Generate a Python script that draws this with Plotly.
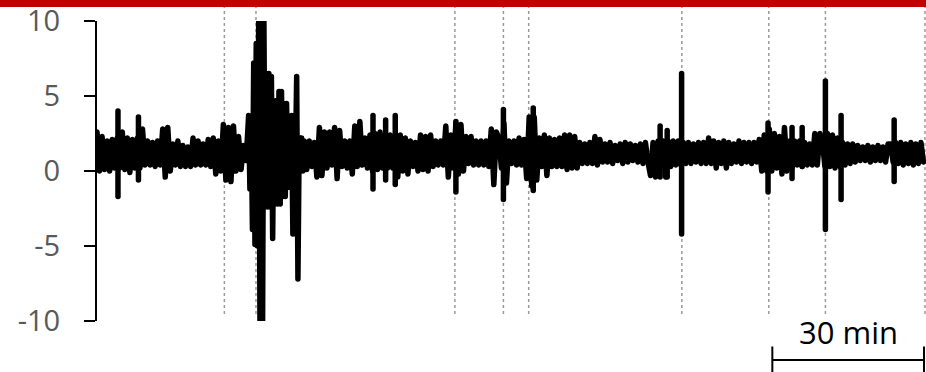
import numpy as np
import plotly.graph_objects as go

# Recorded trace: 0.5-min samples, with 0.25-min samples through the 30-41 min burst
early_signal = [
    # 0-9.5 min
    2.6, 0.0, 2.3, 0.1, 2.0, 0.0, 2.1, 0.2, 2.2, 0.2, 2.6, 0.1, 2.2, -0.1, 2.1, 0.2, 2.2, 0.2, 2.8, 0.4,
    # 10-19.5 min
    2.0, 0.4, 1.9, 0.3, 2.0, 0.4, 2.8, -0.4, 2.9, 0.0, 1.8, 0.4, 2.0, 0.3, 1.7, 0.3, 1.6, 0.3, 2.2, 0.4,
    # 20-29.5 min
    2.0, 0.4, 1.8, 0.4, 2.1, 0.3, 2.2, -0.2, 2.0, 0.0, 3.1, -0.6, 2.9, -0.7, 3.0, 0.0, 2.3, 0.1, 1.7, 0.7,
]
burst_signal = [
    # 30-40.75 min
    3.7, -1.2, 3.6, -3.9, 7.2, -4.9, 8.5, -5.0, 11.0, -11.0, 11.0, -11.0, 11.0, -2.4, 6.5, -2.4,
    6.5, -2.4, 6.3, -4.5, 4.3, -2.2, 4.7, -2.2, 5.3, -2.2, 5.3, -1.7, 4.5, -1.7, 4.5, -1.1,
    2.1, -1.1, 3.7, -4.2, 3.7, 0.5, 6.3, -7.2, 2.2, 0.2, 2.2, 0.0,
]
late_signal = [
    # 41-49.5 min
    2.0, 0.1, 2.0, 0.3, 1.9, -0.4, 2.9, -0.3, 2.6, 0.2, 2.6, 0.4, 2.9, -0.5, 2.7, 0.3, 2.0,
    # 50-59.5 min
    0.2, 2.0, -0.2, 3.0, 0.3, 3.3, 0.4, 2.2, 0.2, 2.4, 0.0, 2.5, 0.1, 2.6, 0.2, 2.4, 0.2, 2.4, 0.2, 2.4,
    # 60-69.5 min
    -0.4, 2.4, 0.0, 2.2, -0.2, 2.0, 0.3, 1.9, 0.0, 2.4, 0.1, 2.3, 0.0, 2.4, 0.3, 2.0, 0.4, 2.0, 0.4, 3.0,
    # 70-79.5 min
    -0.4, 2.4, 0.2, 3.2, -0.2, 3.1, 0.0, 2.3, 0.5, 2.3, 0.4, 2.0, 0.4, 2.0, 0.4, 2.0, 0.3, 2.8, -0.9, 2.6,
    # 80-89.5 min
    2.2, 0.2, 3.2, -0.8, 2.0, 0.5, 2.0, 0.4, 2.2, 0.4, 2.1, -0.5, 3.6, -1.0, 3.6, -0.6, 2.2, 0.3, 2.4, -0.3,
    # 90-99.5 min
    2.2, 0.3, 2.1, 0.3, 2.2, 0.3, 2.4, 0.1, 2.4, 0.2, 2.3, 0.2, 1.9, 0.5, 1.8, 0.5, 1.9, 0.5, 2.3, 0.4,
    # 100-109.5 min
    2.1, 0.6, 1.8, 0.6, 1.9, 0.5, 1.7, 0.7, 1.8, 0.5, 1.9, 0.6, 1.8, 0.7, 1.7, 0.6, 1.8, 0.5, 1.9, 0.6,
    # 110-119.5 min
    -0.3, 1.9, -0.4, 2.0, 0.3, 2.0, -0.4, 2.0, 0.3, 2.0, 0.4, 2.0, 0.4, 1.9, 0.5, 1.9, 0.5, 1.8, 0.6, 1.9,
    # 120-129.5 min
    0.5, 1.9, 0.5, 2.2, 0.5, 2.0, 0.2, 1.9, 0.5, 2.0, 0.2, 1.9, 0.5, 1.8, 0.6, 2.0, 0.5, 1.9, 0.6, 1.9,
    # 130-139.5 min
    0.5, 1.9, 0.6, 2.1, 0.0, 2.4, 0.0, 2.8, 0.0, 2.5, 0.2, 2.3, -0.2, 2.9, 0.0, 2.0, 0.2, 2.0, 0.4, 2.0,
    # 140-149.5 min
    0.3, 1.9, 0.4, 1.8, 0.4, 2.5, 0.4, 2.5, 2.0, 0.3, 2.5, 0.3, 2.4, 0.2, 2.2, 0.3, 1.9, 0.4, 1.8, 0.5,
    # 150-164 min
    1.8, 0.6, 1.7, 0.7, 1.6, 0.7, 1.7, 0.6, 1.6, 0.7, 1.7, 0.7, 1.6, 0.6, 1.8, 1.8, 0.6, 1.9, 0.5, 1.9,
    0.4, 1.8, 0.5, 1.9, 0.4, 1.8, 0.5, 1.9, 0.6,
]
early_time = np.arange(len(early_signal)) * 0.5
burst_time = 30.0 + np.arange(len(burst_signal)) * 0.25
late_time = 41.0 + np.arange(len(late_signal)) * 0.5
time_min = np.concatenate([early_time, burst_time, late_time])
signal = early_signal + burst_signal + late_signal

# Isolated sharp deflections: time (min), peak, trough
spike_times = [4.15, 8.2, 54.6, 57.1, 59.0, 71.0, 80.4, 86.3, 111.4, 112.8,
               115.65, 132.75, 137.5, 139.5, 144.1, 147.2, 157.7]
spike_peaks = [4.0, 3.6, 3.7, 3.4, 3.7, 3.3, 4.1, 4.2, 3.0, 2.7,
               6.5, 3.2, 2.9, 2.9, 6.0, 3.7, 3.4]
spike_troughs = [-1.7, -0.6, -1.2, -0.6, -0.9, -1.4, -1.9, -1.3, -0.4, -0.4,
                 -4.2, -1.4, -0.5, 0.3, -3.9, -1.9, -0.7]

# Event markers (min)
event_times = [25.2, 31.45, 70.8, 80.4, 85.4, 115.7, 132.9, 144.1, 163.8]

# Axis
x_range = [0, 164]
y_range = [-10, 10]
y_ticks = [-10, -5, 0, 5, 10]
y_tick_text = ["-10", "-5", "0", "5", "10"]

# Time scale bar
scale_bar_min = 30
scale_bar_end = 163.6
scale_bar_label = "30 min"

spike_x, spike_y = [], []
for t, hi, lo in zip(spike_times, spike_peaks, spike_troughs):
    spike_x += [t, t, None]
    spike_y += [hi, lo, None]

trace_line = dict(color="black", width=5.5, simplify=False)
fig = go.Figure([
    go.Scatter(x=time_min, y=signal, mode="lines", line=trace_line, hoverinfo="skip"),
    go.Scatter(x=spike_x, y=spike_y, mode="lines", line=trace_line, hoverinfo="skip",
               connectgaps=False),
])

shapes = []
for t in event_times:
    shapes.append(dict(
        type="line", xref="x", yref="paper",
        x0=t, x1=t, y0=0.023, y1=1.047,
        line=dict(color="#9a9a9a", width=1.5, dash="dot"),
        layer="below",
    ))

# red banner along the top edge
shapes.append(dict(
    type="rect", xref="paper", yref="paper",
    x0=-0.12, x1=1.01, y0=1.047, y1=1.08,
    fillcolor="#C00000", line=dict(width=0), layer="above",
))

# scale bar with end caps
sb0 = scale_bar_end - scale_bar_min
shapes.append(dict(type="line", xref="x", yref="paper", x0=sb0, x1=scale_bar_end,
                   y0=-0.13, y1=-0.13, line=dict(color="black", width=2)))
for xe in (sb0, scale_bar_end):
    shapes.append(dict(type="line", xref="x", yref="paper", x0=xe, x1=xe,
                       y0=-0.085, y1=-0.175, line=dict(color="black", width=2)))

fig.update_layout(
    width=926,
    height=372,
    margin=dict(l=97, r=0, t=21, b=51, pad=0),
    paper_bgcolor="white",
    plot_bgcolor="white",
    showlegend=False,
    shapes=shapes,
    annotations=[dict(
        xref="x", yref="paper", x=scale_bar_end - scale_bar_min / 2, y=-0.037,
        text=scale_bar_label, showarrow=False, xanchor="center", yanchor="middle",
        font=dict(family="Open Sans", size=31, color="black"),
    )],
    xaxis=dict(range=x_range, visible=False),
    yaxis=dict(
        range=y_range,
        tickvals=y_ticks,
        ticktext=y_tick_text,
        ticks="outside",
        ticklen=11,
        tickwidth=2,
        tickcolor="black",
        showline=True,
        linecolor="black",
        linewidth=2,
        showgrid=False,
        zeroline=False,
        ticklabelstandoff=18,
        tickfont=dict(family="Open Sans", size=29, color="#595959"),
    ),
)

# rounded joins and caps on the trace
round_joins = """
var gd = document.getElementById('{plot_id}');
function roundLines() {
  gd.querySelectorAll('path.js-line').forEach(function (p) {
    p.style.strokeLinejoin = 'round';
    p.style.strokeLinecap = 'round';
  });
}
roundLines();
gd.on('plotly_afterplot', roundLines);
"""

fig.write_html("out.html", post_script=round_joins)
